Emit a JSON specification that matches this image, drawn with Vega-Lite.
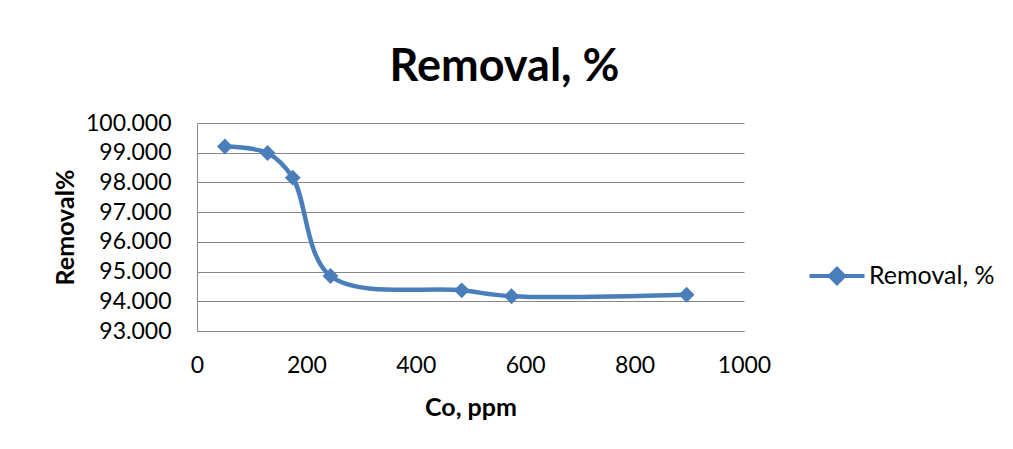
{
  "$schema": "https://vega.github.io/schema/vega-lite/v6.json",
  "width": 547,
  "height": 208,
  "autosize": {"type": "none"},
  "padding": {"left": 197, "top": 123, "right": 269, "bottom": 118},
  "background": "white",
  "title": {
    "text": "Removal, %",
    "font": "Lato",
    "fontSize": 45,
    "fontWeight": "bold",
    "color": "#000000",
    "anchor": "middle",
    "dx": 34,
    "offset": 22
  },
  "data": {
    "values": [
      {"co": 51, "removal": 99.21, "series": "Removal, %"},
      {"co": 129, "removal": 98.99, "series": "Removal, %"},
      {"co": 175, "removal": 98.16, "series": "Removal, %"},
      {"co": 244, "removal": 94.85, "series": "Removal, %"},
      {"co": 484, "removal": 94.37, "series": "Removal, %"},
      {"co": 575, "removal": 94.17, "series": "Removal, %"},
      {"co": 895, "removal": 94.22, "series": "Removal, %"}
    ]
  },
  "mark": {
    "type": "line",
    "interpolate": "catmull-rom",
    "strokeWidth": 4.5,
    "point": {"shape": "diamond", "size": 250, "filled": true, "opacity": 1}
  },
  "encoding": {
    "x": {
      "field": "co",
      "type": "quantitative",
      "scale": {"domain": [0, 1000], "nice": false},
      "axis": {
        "values": [0, 200, 400, 600, 800, 1000],
        "format": "d",
        "labelFlush": false,
        "title": "Co, ppm",
        "titleFontSize": 25,
        "grid": false,
        "ticks": false,
        "domainColor": "#878787",
        "labelPadding": 23,
        "titleY": 76,
        "titleBaseline": "middle"
      }
    },
    "y": {
      "field": "removal",
      "type": "quantitative",
      "scale": {"domain": [93, 100], "nice": false, "zero": false},
      "axis": {
        "values": [93, 94, 95, 96, 97, 98, 99, 100],
        "format": ".3f",
        "labelFlush": false,
        "title": "Removal%",
        "titleFontSize": 25,
        "grid": true,
        "gridColor": "#878787",
        "ticks": false,
        "domainColor": "#878787",
        "labelPadding": 26,
        "titleX": -132,
        "titleY": 104,
        "titleAlign": "center",
        "titleBaseline": "middle"
      }
    },
    "color": {
      "field": "series",
      "type": "nominal",
      "scale": {"range": ["#4A7EBB"]},
      "legend": {
        "title": null,
        "orient": "none",
        "legendX": 627,
        "legendY": 140,
        "symbolType": "M -2.5 0 L 2.5 0 M 0 -0.65 L 0.65 0 L 0 0.65 L -0.65 0 Z",
        "symbolSize": 484,
        "symbolStrokeWidth": 4,
        "symbolFillColor": "#4A7EBB",
        "symbolStrokeColor": "#4A7EBB",
        "labelFont": "Lato",
        "labelFontSize": 25,
        "labelColor": "#000000",
        "labelOffset": 19
      }
    }
  },
  "config": {
    "font": "Lato",
    "view": {"stroke": null},
    "axis": {
      "labelFont": "Lato",
      "labelFontSize": 23,
      "labelColor": "#000000",
      "titleFont": "Lato",
      "titleFontWeight": "bold",
      "titleColor": "#000000",
      "gridWidth": 1,
      "domainWidth": 1
    }
  }
}
